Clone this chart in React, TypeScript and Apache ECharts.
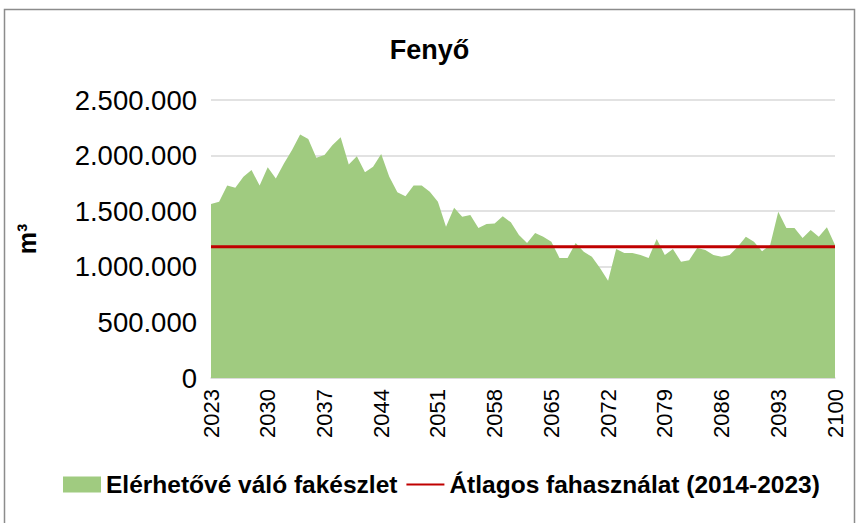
import React, { useEffect, useRef } from "react";
import * as echarts from "echarts";

const years: string[] = [];
for (let y = 2023; y <= 2100; y++) years.push(String(y));

const availableStock: number[] = [
  1565000, 1585000, 1730000, 1710000, 1810000, 1870000, 1730000, 1895000, 1795000, 1930000,
  2050000, 2190000, 2150000, 1980000, 2005000, 2095000, 2165000, 1920000, 1995000, 1850000,
  1900000, 2015000, 1810000, 1670000, 1635000, 1730000, 1730000, 1675000, 1585000, 1360000,
  1530000, 1450000, 1465000, 1350000, 1385000, 1390000, 1455000, 1400000, 1285000, 1215000,
  1305000, 1270000, 1225000, 1080000, 1080000, 1215000, 1135000, 1090000, 990000, 875000,
  1160000, 1125000, 1125000, 1105000, 1080000, 1250000, 1105000, 1160000, 1045000, 1060000,
  1170000, 1150000, 1105000, 1090000, 1105000, 1180000, 1270000, 1225000, 1140000, 1195000,
  1495000, 1350000, 1350000, 1260000, 1330000, 1270000, 1355000, 1195000,
];

const averageUse = 1180000;
const averageLine: number[] = years.map(() => averageUse);

const seriesNames = ["Elérhetővé váló fakészlet", "Átlagos fahasználat (2014-2023)"];

const FONT = "'Liberation Sans', Arial, sans-serif";

const fmt = (v: number) => String(v).replace(/\B(?=(\d{3})+(?!\d))/g, ".");

export default function App() {
  const ref = useRef<HTMLDivElement>(null);
  useEffect(() => {
    if (!ref.current) return;
    const chart = echarts.init(ref.current, undefined, { renderer: "svg" });
    chart.setOption({
      animation: false,
      backgroundColor: "#ffffff",
      textStyle: { fontFamily: FONT },
      title: {
        text: "Fenyő",
        left: "center",
        top: 31,
        textStyle: { fontFamily: FONT, fontSize: 27, fontWeight: "bold", color: "#000" },
      },
      graphic: [
        {
          type: "rect",
          shape: { x: 4.5, y: 9.5, width: 850, height: 530 },
          style: { fill: "none", stroke: "#8c8c8c", lineWidth: 1.5 },
          silent: true,
        },
      ],
      legend: {
        bottom: 21,
        left: 58,
        itemWidth: 38,
        itemHeight: 16,
        itemGap: 8,
        textStyle: { fontFamily: FONT, fontSize: 24.5, fontWeight: "bold", color: "#000" },
        data: [
          { name: seriesNames[0], icon: "rect" },
          { name: seriesNames[1], itemStyle: { opacity: 0 } },
        ],
      },
      grid: { left: 211, right: 24, top: 100, bottom: 145 },
      xAxis: {
        type: "category",
        data: years,
        boundaryGap: false,
        axisLine: { show: true, lineStyle: { color: "#d9d9d9", width: 1.5 } },
        axisTick: { show: false },
        axisLabel: {
          interval: 6,
          rotate: 90,
          fontFamily: FONT,
          fontSize: 22,
          color: "#000",
          margin: 11,
        },
        splitLine: { show: false },
      },
      yAxis: {
        type: "value",
        min: 0,
        max: 2500000,
        interval: 500000,
        name: "m³",
        nameLocation: "middle",
        nameRotate: 90,
        nameGap: 172,
        nameTextStyle: { fontFamily: FONT, fontSize: 25, fontWeight: "bold", color: "#000" },
        axisLine: { show: false },
        axisTick: { show: false },
        axisLabel: {
          formatter: (v: number) => fmt(v),
          fontFamily: FONT,
          fontSize: 27.5,
          color: "#000",
          margin: 14,
        },
        splitLine: { lineStyle: { color: "#d9d9d9", width: 1.5 } },
      },
      series: [
        {
          name: seriesNames[0],
          type: "line",
          data: availableStock,
          symbol: "none",
          lineStyle: { width: 0, color: "#a0cb80" },
          itemStyle: { color: "#a0cb80" },
          areaStyle: { color: "#a0cb80", opacity: 1 },
          z: 2,
        },
        {
          name: seriesNames[1],
          type: "line",
          data: averageLine,
          symbol: "none",
          showSymbol: false,
          lineStyle: { width: 3, color: "#c00000" },
          itemStyle: { color: "#c00000" },
          z: 3,
        },
      ],
    });
    return () => chart.dispose();
  }, []);
  return (
    <div
      ref={ref}
      style={{ position: "absolute", left: 0, top: 0, width: 859, height: 523 }}
    />
  );
}
